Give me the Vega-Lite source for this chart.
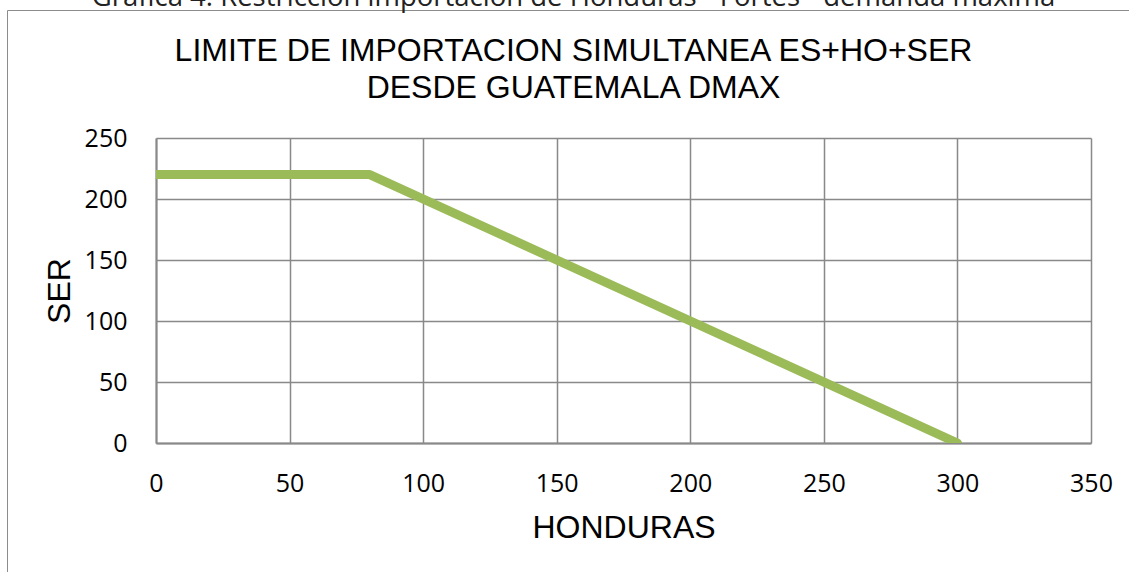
{
  "$schema": "https://vega.github.io/schema/vega-lite/v6.json",
  "width": 935,
  "height": 305,
  "autosize": {"type": "none"},
  "padding": {"left": 156, "top": 138, "right": 38, "bottom": 129},
  "background": "white",
  "title": {
    "text": "Gráfica 4. Restricción importación de Honduras - Fortes - demanda máxima",
    "subtitle": ["LIMITE DE IMPORTACION SIMULTANEA ES+HO+SER", "DESDE GUATEMALA DMAX"],
    "anchor": "middle",
    "frame": "group",
    "dx": -50,
    "dy": 116,
    "font": "Open Sans",
    "fontSize": 27.5,
    "fontWeight": "normal",
    "color": "#222222",
    "subtitleFont": "Liberation Sans",
    "subtitleFontSize": 32,
    "subtitleColor": "#000000",
    "subtitleLineHeight": 37.5,
    "subtitlePadding": 24.5,
    "offset": 21.5
  },
  "data": {
    "values": [
      {"HONDURAS": 0, "SER": 220},
      {"HONDURAS": 80, "SER": 220},
      {"HONDURAS": 300, "SER": 0}
    ]
  },
  "mark": {"type": "line", "strokeWidth": 9, "strokeCap": "round", "strokeJoin": "round", "clip": true},
  "encoding": {
    "color": {
      "datum": "SER",
      "scale": {"range": ["#9BBB59"]},
      "legend": {
        "orient": "none",
        "legendX": -149,
        "legendY": -128,
        "padding": 1000,
        "strokeColor": "#8c8c8c",
        "fillColor": null,
        "title": null,
        "symbolOpacity": 0,
        "labelOpacity": 0,
        "labelExpr": "''"
      }
    },
    "x": {
      "field": "HONDURAS",
      "type": "quantitative",
      "scale": {"domain": [0, 350], "nice": false, "zero": false},
      "axis": {
        "values": [0, 50, 100, 150, 200, 250, 300, 350],
        "title": "HONDURAS",
        "titleFont": "Liberation Sans",
        "titleFontSize": 32,
        "titleFontWeight": "normal",
        "titleColor": "#000000",
        "titlePadding": 16,
        "labelFont": "Open Sans",
        "labelFontSize": 25,
        "labelColor": "#000000",
        "labelPadding": 28,
        "ticks": false,
        "tickSize": 0,
        "domainColor": "#898989",
        "domainWidth": 2,
        "gridColor": "#898989",
        "gridWidth": 1.5,
        "labelFlush": false,
        "labelOverlap": false
      }
    },
    "y": {
      "field": "SER",
      "type": "quantitative",
      "scale": {"domain": [0, 250], "nice": false},
      "axis": {
        "values": [0, 50, 100, 150, 200, 250],
        "title": "SER",
        "titleFont": "Liberation Sans",
        "titleFontSize": 32,
        "titleFontWeight": "normal",
        "titleColor": "#000000",
        "titlePadding": 8,
        "labelFont": "Open Sans",
        "labelFontSize": 25,
        "labelColor": "#000000",
        "labelPadding": 29,
        "ticks": false,
        "tickSize": 0,
        "domainColor": "#898989",
        "domainWidth": 2,
        "gridColor": "#898989",
        "gridWidth": 1.5,
        "labelFlush": false,
        "labelOverlap": false
      }
    }
  },
  "config": {
    "view": {"stroke": null}
  }
}
